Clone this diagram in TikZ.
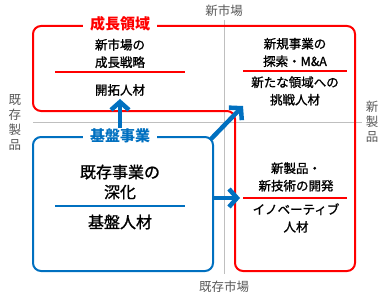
\documentclass[tikz,border=0pt]{standalone}
\usepackage{fontspec}
\setmainfont{Noto Sans CJK JP}
\newfontfamily\bodyfont{Noto Sans CJK JP}[FakeBold=1.2]
\usetikzlibrary{arrows.meta}

\definecolor{growred}{RGB}{255,0,0}
\definecolor{baseblue}{RGB}{0,112,192}
\definecolor{axisgray}{RGB}{191,191,191}
\definecolor{labelgray}{RGB}{89,89,89}

\begin{document}
\begin{tikzpicture}[x=1pt, y=-1pt,
		body/.style={align=center, inner sep=0pt, font=\bodyfont\fontsize{12.5}{17.5}\selectfont},
		axislabel/.style={align=center, inner sep=0pt, text=labelgray, font=\fontsize{12.5}{15}\selectfont},
		title/.style={fill=white, inner xsep=7pt, inner ysep=1pt, font=\fontsize{15}{18}\selectfont\bfseries},
		bigarrow/.style={-{Straight Barb[length=8pt, width=18pt, line width=4.5pt]}, line width=4.5pt, baseblue}]
		\useasboundingbox (0, 0) rectangle (387, 302);

		% axes
		\draw[axisgray, line width=1pt] (33, 122) -- (362, 122);
		\draw[axisgray, line width=1pt] (224, 20) -- (224, 274);
		\node[axislabel] (newmarket) at (224, 11) {新市場};
		\node[axislabel] (oldmarket) at (224, 287) {既存市場};
		\node[axislabel] (oldproduct) at (15, 122) {既\\存\\製\\品};
		\node[axislabel] (newproduct) at (372, 122) {新\\製\\品};

		% growth area
		\draw[growred, line width=2pt, rounded corners=8pt]
			(33, 60) -- (33, 26) -- (355, 26) -- (355, 271) -- (235, 271) -- (235, 111) -- (33, 111) -- cycle;
		\node[title, text=growred] (growth) at (120, 24) {成長領域};

		% base business
		\node[draw=baseblue, line width=2pt, rounded corners=8pt, minimum width=180pt, minimum height=134pt] (basebox) at (123, 204) {};
		\node[title, text=baseblue] (base) at (120, 136) {基盤事業};

		% top left
		\node[body] (marketstrat) at (120, 53.5) {新市場の\\成長戦略};
		\draw[growred, line width=1.5pt] (55, 72) -- (185, 72);
		\node[body] (pioneer) at (120, 90) {開拓人材};

		% top right
		\node[body] (newbiz) at (295, 52.5) {新規事業の\\探索・M\&A};
		\draw[growred, line width=1.5pt] (243, 71) -- (347, 71);
		\node[body] (challenge) at (295, 91) {新たな領域への\\挑戦人材};

		% bottom right
		\node[body] (newprod) at (296, 177) {新製品・\\新技術の開発};
		\coordinate (devrule) at (243, 198);
		\draw[growred, line width=1.5pt] (devrule) -- (347, 198);
		\node[body] (innov) at (296, 218) {イノベーティブ\\人材};

		% bottom left
		\node[body, font=\bodyfont\fontsize{16}{20}\selectfont] (deepen) at (120, 182) {既存事業の\\深化};
		\draw[baseblue, line width=1.5pt] (55, 206) -- (185, 206);
		\node[body, font=\bodyfont\fontsize{16}{20}\selectfont] (basetalent) at (120, 222) {基盤人材};

		% arrows
		\coordinate (diagtip) at (243, 106);
		\draw[bigarrow] (base.north) -- ([yshift=-3pt]pioneer.south);
		\draw[bigarrow] (basebox.north east) ++(-3, 3) -- (diagtip);
		\draw[bigarrow] (basebox.east |- devrule) -- ([xshift=-3pt]devrule);
	\end{tikzpicture}
\end{document}
